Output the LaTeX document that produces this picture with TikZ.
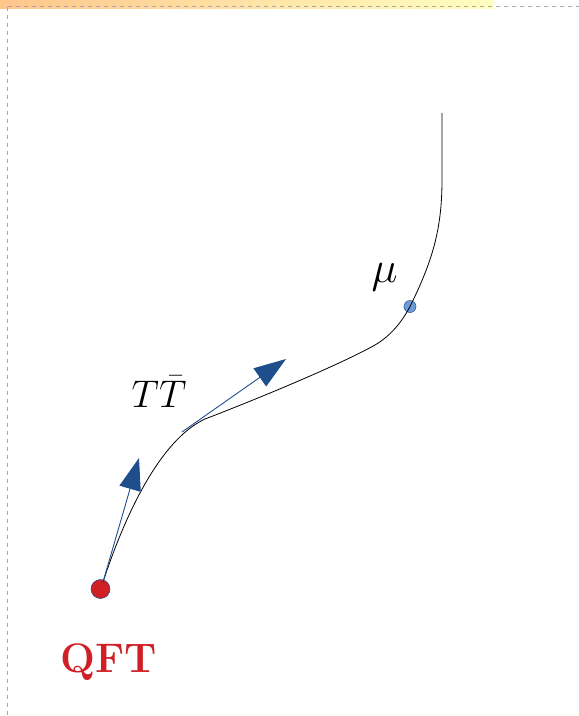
\documentclass[tikz,border=0pt]{standalone}
\usepackage{amsmath}
\usepackage{graphicx}
\usepackage{tikz}
\usetikzlibrary{arrows.meta,positioning}
\definecolor{qftred}{HTML}{D01F25}
\definecolor{flowblue}{HTML}{1F4E8D}
\definecolor{mublue}{HTML}{6B9BD8}
\definecolor{pagegray}{HTML}{A8A8A8}
\newcommand{\biglabel}[2][1.77]{\scalebox{#1}{\Huge #2}}

\begin{document}
\begin{tikzpicture}[x=1pt, y=-1pt,
  dot/.style={circle, draw=flowblue, line width=0.5pt, inner sep=0pt},
  big/.style={inner sep=0pt},
  flow/.style={-{Triangle[length=32pt, width=22pt]}, flowblue, line width=0.9pt},
  frame/.style={pagegray, line width=1pt, dash pattern=on 4pt off 4pt}
]
\useasboundingbox (0,0) rectangle (579,716);
% page strip and frame
\shade[left color=orange!45, right color=yellow!25] (0,0) rectangle (494,8);
\draw[frame] (7.5,6.5) -- (579,6.5);
\draw[frame] (7.5,6.5) -- (7.5,716);

\node[dot, fill=qftred, minimum size=19pt] (qft) at (100.5,589) {};
\node[dot, fill=mublue, minimum size=12pt] (mupt) at (410,306.5) {};
\node[big, anchor=base, text=qftred] (qftlabel) at (108.5,672) {\biglabel[1.66]{\textbf{QFT}}};
\node[big, anchor=base] (mu) at (384.5,282) {\biglabel{$\mu$}};
\node[big, anchor=base] (ttbar) at (159,407) {\biglabel[1.55]{$T\bar{T}$}};

\coordinate (start) at (103,582);
\coordinate (bend) at (205,419);
\coordinate (knee) at (375,345);
\coordinate (top) at (442,113);
\coordinate (tipone) at (139,458);
\coordinate (fromtwo) at (182,432);
\coordinate (tiptwo) at (286,359);

% the flow line
\draw[line width=0.8pt] (start) .. controls (125,515) and (160,440) .. (bend)
  .. controls (270,394) and (345,362) .. (knee)
  .. controls (392,335) and (403,320) .. (mupt.center)
  .. controls (432,262) and (442,230) .. (442,180) -- (top);

\draw[flow] (start) -- (tipone);
\draw[flow] (fromtwo) -- (tiptwo);
\end{tikzpicture}
\end{document}
